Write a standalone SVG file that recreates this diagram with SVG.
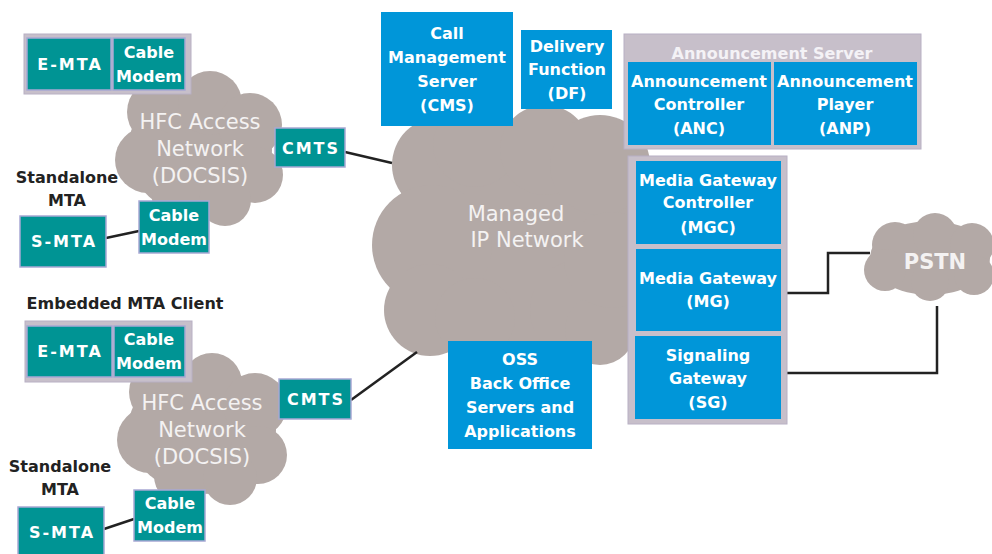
<svg xmlns="http://www.w3.org/2000/svg" width="992" height="554" viewBox="0 0 992 554">
<style>
.cloud{fill:#B3A9A6}
.frame{fill:#C7BFCA;stroke:#B8B0C4;stroke-width:1}
.teal{fill:#009494;stroke:#A8A8D4;stroke-width:1.5}
.blue{fill:#0096D9}
.wt{font-family:"DejaVu Sans",sans-serif;font-weight:bold;font-size:16px;fill:#fff;text-anchor:middle}
.ws{letter-spacing:2px}
.ct{font-family:"DejaVu Sans",sans-serif;font-size:21px;fill:#F4F2F2;text-anchor:middle}
.bt{font-family:"DejaVu Sans",sans-serif;font-weight:bold;font-size:16px;fill:#222;text-anchor:middle}
.ln{stroke:#222;stroke-width:2.5;fill:none}
</style>
<rect width="992" height="554" fill="#fff"/>

<g id="managed-ip-network">
  <g class="cloud">
    <ellipse cx="515" cy="235" rx="122" ry="115"/>
    <circle cx="440" cy="165" r="48"/>
    <circle cx="475" cy="145" r="42"/>
    <circle cx="545" cy="150" r="45"/>
    <circle cx="600" cy="165" r="50"/>
    <circle cx="432" cy="245" r="60"/>
    <circle cx="430" cy="310" r="46"/>
    <circle cx="475" cy="318" r="40"/>
    <circle cx="580" cy="310" r="50"/>
    <circle cx="600" cy="330" r="35"/>
    <circle cx="612" cy="260" r="48"/>
  </g>
  <text class="ct" x="516" y="221">Managed</text>
  <text class="ct" x="527" y="247">IP Network</text>
</g>

<g id="hfc1">
  <g class="cloud">
    <ellipse cx="200" cy="150" rx="72" ry="66"/>
    <circle cx="160" cy="112" r="33"/>
    <circle cx="210" cy="103" r="32"/>
    <circle cx="250" cy="125" r="32"/>
    <circle cx="255" cy="175" r="28"/>
    <circle cx="148" cy="160" r="33"/>
    <circle cx="180" cy="198" r="28"/>
    <circle cx="225" cy="200" r="26"/>
  </g>
  <text class="ct" x="200" y="129">HFC Access</text>
  <text class="ct" x="200" y="156">Network</text>
  <text class="ct" x="200" y="183">(DOCSIS)</text>
</g>

<g id="hfc2">
  <g class="cloud">
    <ellipse cx="202" cy="430" rx="74" ry="64"/>
    <circle cx="162" cy="392" r="33"/>
    <circle cx="212" cy="383" r="30"/>
    <circle cx="255" cy="405" r="32"/>
    <circle cx="258" cy="455" r="29"/>
    <circle cx="150" cy="440" r="33"/>
    <circle cx="182" cy="476" r="28"/>
    <circle cx="230" cy="478" r="27"/>
  </g>
  <text class="ct" x="202" y="410">HFC Access</text>
  <text class="ct" x="202" y="437">Network</text>
  <text class="ct" x="202" y="464">(DOCSIS)</text>
</g>

<g id="pstn">
  <g class="cloud">
    <ellipse cx="930" cy="258" rx="60" ry="37"/>
    <circle cx="895" cy="245" r="23"/>
    <circle cx="935" cy="235" r="22"/>
    <circle cx="972" cy="245" r="22"/>
    <circle cx="885" cy="270" r="21"/>
    <circle cx="930" cy="282" r="19"/>
    <circle cx="974" cy="275" r="20"/>
  </g>
  <text class="ct" x="935" y="269" style="font-weight:bold">PSTN</text>
</g>

<g id="connectors">
  <line class="ln" x1="345" y1="152" x2="392" y2="163"/>
  <line class="ln" x1="351" y1="400" x2="417" y2="352"/>
  <line class="ln" x1="106" y1="238" x2="139" y2="231"/>
  <line class="ln" x1="104" y1="529" x2="134" y2="519"/>
  <polyline class="ln" points="787,293 828,293 828,253 870,253"/>
  <polyline class="ln" points="787,373 937,373 937,306"/>
</g>

<g id="emta-top">
  <rect class="frame" x="24" y="34" width="167" height="60"/>
  <rect class="teal" x="27" y="38" width="84" height="52"/>
  <rect class="teal" x="113" y="38" width="72" height="52"/>
  <text class="wt ws" x="70" y="70">E-MTA</text>
  <text class="wt" x="149" y="58">Cable</text>
  <text class="wt" x="149" y="82">Modem</text>
</g>

<g id="cmts1">
  <rect class="teal" x="275" y="128" width="70" height="39"/>
  <text class="wt ws" x="311" y="154">CMTS</text>
</g>

<g id="standalone1">
  <text class="bt" x="67" y="183">Standalone</text>
  <text class="bt" x="67" y="206">MTA</text>
  <rect class="teal" x="20" y="216" width="86" height="51"/>
  <text class="wt ws" x="64" y="247">S-MTA</text>
  <rect class="teal" x="139" y="201" width="70" height="52"/>
  <text class="wt" x="174" y="221">Cable</text>
  <text class="wt" x="174" y="245">Modem</text>
</g>

<g id="emta-bottom">
  <text class="bt" x="125" y="309">Embedded MTA Client</text>
  <rect class="frame" x="25" y="321" width="167" height="61"/>
  <rect class="teal" x="27" y="326" width="85" height="51"/>
  <rect class="teal" x="114" y="326" width="71" height="51"/>
  <text class="wt ws" x="70" y="357">E-MTA</text>
  <text class="wt" x="149" y="345">Cable</text>
  <text class="wt" x="149" y="369">Modem</text>
</g>

<g id="cmts2">
  <rect class="teal" x="279" y="379" width="72" height="40"/>
  <text class="wt ws" x="316" y="405">CMTS</text>
</g>

<g id="standalone2">
  <text class="bt" x="60" y="472">Standalone</text>
  <text class="bt" x="60" y="495">MTA</text>
  <rect class="teal" x="18" y="507" width="86" height="50"/>
  <text class="wt ws" x="62" y="538">S-MTA</text>
  <rect class="teal" x="134" y="490" width="71" height="51"/>
  <text class="wt" x="170" y="509">Cable</text>
  <text class="wt" x="170" y="533">Modem</text>
</g>

<g id="cms">
  <rect class="blue" x="381" y="12" width="132" height="114"/>
  <text class="wt" x="447" y="39">Call</text>
  <text class="wt" x="447" y="63">Management</text>
  <text class="wt" x="447" y="87">Server</text>
  <text class="wt" x="447" y="111">(CMS)</text>
</g>

<g id="df">
  <rect class="blue" x="521" y="30" width="91" height="79"/>
  <text class="wt" x="567" y="52">Delivery</text>
  <text class="wt" x="567" y="75">Function</text>
  <text class="wt" x="567" y="99">(DF)</text>
</g>

<g id="announcement-server">
  <rect class="frame" x="624" y="34" width="297" height="115"/>
  <text class="wt" x="772" y="59" style="fill:#F4F2F6">Announcement Server</text>
  <rect class="blue" x="628" y="62" width="143" height="83"/>
  <rect class="blue" x="774" y="62" width="143" height="83"/>
  <text class="wt" x="699" y="87">Announcement</text>
  <text class="wt" x="699" y="110">Controller</text>
  <text class="wt" x="699" y="134">(ANC)</text>
  <text class="wt" x="845" y="87">Announcement</text>
  <text class="wt" x="845" y="110">Player</text>
  <text class="wt" x="845" y="134">(ANP)</text>
</g>

<g id="gateways">
  <rect class="frame" x="628" y="156" width="159" height="268"/>
  <rect class="blue" x="636" y="161" width="145" height="83"/>
  <rect class="blue" x="636" y="249" width="145" height="82"/>
  <rect class="blue" x="635" y="336" width="146" height="83"/>
  <text class="wt" x="708" y="186">Media Gateway</text>
  <text class="wt" x="708" y="208">Controller</text>
  <text class="wt" x="708" y="233">(MGC)</text>
  <text class="wt" x="708" y="284">Media Gateway</text>
  <text class="wt" x="708" y="307">(MG)</text>
  <text class="wt" x="708" y="361">Signaling</text>
  <text class="wt" x="708" y="384">Gateway</text>
  <text class="wt" x="708" y="408">(SG)</text>
</g>

<g id="oss">
  <rect class="blue" x="448" y="341" width="144" height="108"/>
  <text class="wt" x="520" y="365">OSS</text>
  <text class="wt" x="520" y="389">Back Office</text>
  <text class="wt" x="520" y="413">Servers and</text>
  <text class="wt" x="520" y="437">Applications</text>
</g>
</svg>
